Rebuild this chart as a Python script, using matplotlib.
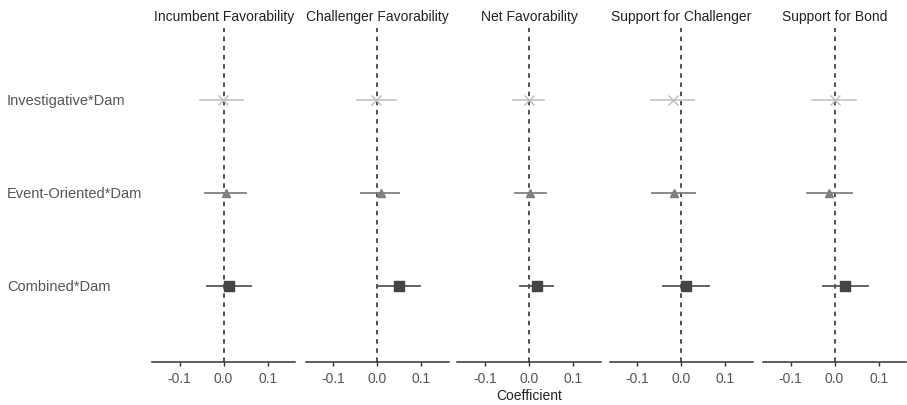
import numpy as np
import matplotlib.pyplot as plt

plt.rcParams['font.family'] = ['Liberation Sans', 'DejaVu Sans']

outcomes = ['Incumbent Favorability', 'Challenger Favorability', 'Net Favorability',
            'Support for Challenger', 'Support for Bond']
terms = ['Investigative*Dam', 'Event-Oriented*Dam', 'Combined*Dam']

# coefficient estimates, one list per term (order = outcomes)
est_inv = [-0.002, -0.003, 0.001, -0.019, 0.000]
est_evt = [0.006, 0.008, 0.002, -0.016, -0.012]
est_comb = [0.012, 0.049, 0.018, 0.011, 0.023]

lo_inv = [-0.053, -0.045, -0.036, -0.069, -0.052]
hi_inv = [0.044, 0.044, 0.035, 0.030, 0.048]
lo_evt = [-0.043, -0.036, -0.032, -0.067, -0.062]
hi_evt = [0.052, 0.051, 0.038, 0.032, 0.039]
lo_comb = [-0.037, 0.001, -0.020, -0.042, -0.027]
hi_comb = [0.063, 0.097, 0.054, 0.063, 0.076]

ypos = [3, 2, 1]
markers = ['x', '^', 's']
mcolors = ['#bdbdbd', '#7f7f7f', '#444444']
lcolors = ['#c8c8c8', '#808080', '#555555']
msizes = [7, 6, 6.5]

est = [est_inv, est_evt, est_comb]
lo = [lo_inv, lo_evt, lo_comb]
hi = [hi_inv, hi_evt, hi_comb]

fig = plt.figure(figsize=(9.07, 4.06), dpi=100)
lefts = [152.3, 305.7, 457.5, 610.0, 763.3]
W, H = 907.0, 406.0
bottom = (H - 362.5) / H
top = (H - 29) / H

for j, name in enumerate(outcomes):
    ax = fig.add_axes([lefts[j] / W, bottom, 143 / W, top - bottom])
    ax.axvline(0, color='#222222', ls=(0, (3, 3)), lw=1.1, zorder=1)
    for i in range(3):
        ax.plot([lo[i][j], hi[i][j]], [ypos[i], ypos[i]], color=lcolors[i], lw=1.3, zorder=2)
        ax.plot(est[i][j], ypos[i], marker=markers[i], color=mcolors[i],
                ms=msizes[i], mew=1.0, ls='none', zorder=3)
    ax.set_xlim(-0.162, 0.163)
    ax.set_ylim(0.19, 3.77)
    ax.set_xticks([-0.1, 0.0, 0.1])
    ax.set_xticklabels(['-0.1', '0.0', '0.1'])
    ax.set_yticks([])
    for s in ['top', 'right', 'left']:
        ax.spines[s].set_visible(False)
    ax.spines['bottom'].set_color('#333333')
    ax.spines['bottom'].set_linewidth(1.1)
    ax.tick_params(axis='x', length=3, width=1, color='#333333', labelsize=10,
                   labelcolor='#555555', pad=4)
    ax.set_title(name, fontsize=10, color='#222222', pad=6)
    if j == 2:
        ax.set_xlabel('Coefficient', fontsize=10, color='#222222', labelpad=2)

for i, t in enumerate(terms):
    yfig = bottom + (ypos[i] - 0.19) / (3.77 - 0.19) * (top - bottom)
    fig.text(7 / W, yfig, t, ha='left', va='center', fontsize=10.5, color='#555555')

fig.savefig('out.png', dpi=100)
